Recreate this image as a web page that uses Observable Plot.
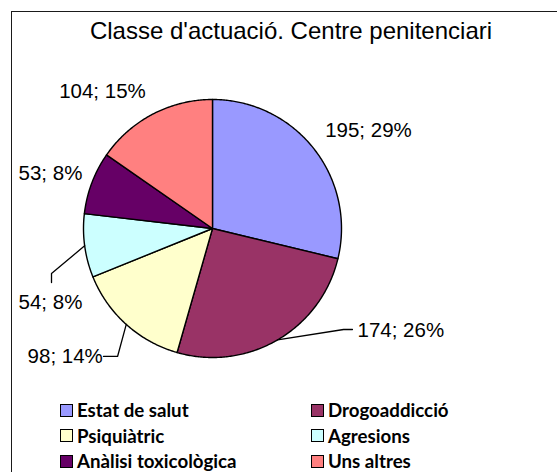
<!DOCTYPE html>
<html>
<head>
<meta charset="utf-8">
<script src="https://cdn.jsdelivr.net/npm/d3@7"></script>
<script src="https://cdn.jsdelivr.net/npm/@observablehq/plot@0.6"></script>
<style>
  html, body { margin: 0; padding: 0; background: #fff; }
  #wrap { position: relative; width: 557px; height: 472px; overflow: hidden; background: #fff; }
  #frame { position: absolute; left: 11px; top: 11px; width: 600px; height: 520px; border: 1.6px solid #1a1a1a; box-sizing: border-box; }
  #title { position: absolute; left: 0; width: 582px; top: 17px; text-align: center; font-family: "Liberation Sans", Arial, sans-serif; font-size: 24px; color: #000; white-space: nowrap; }
  #chart { position: absolute; left: 0; top: 0; }
  .leg { position: absolute; font-family: Lato, "Open Sans", sans-serif; font-weight: 700; font-size: 18.7px; color: #000; display: flex; align-items: center; white-space: nowrap; }
  .leg .sw { width: 11px; height: 11px; border: 1.6px solid #000; margin-right: 4px; flex: none; }
</style>
</head>
<body>
<div id="wrap">
  <div id="frame"></div>
  <div id="chart"></div>
  <div id="title">Classe d'actuació. Centre penitenciari</div>
  <div id="legend"></div>
</div>
<script>
// ---- data ----
const categories = ["Estat de salut", "Drogoaddicció", "Psiquiàtric", "Agresions", "Anàlisi toxicològica", "Uns altres"];
const values = [195, 174, 98, 54, 53, 104];
const percents = [29, 26, 14, 8, 8, 15];
const colors = ["#9999FF", "#993366", "#FFFFCC", "#CCFFFF", "#660066", "#FF8080"];

// ---- layout (pie radius units; y up) ----
const cx = 212, cy = 228, R = 129;
const labelPos = [
  {x: 1.209, y: 0.760, anchor: "middle"},
  {x: 1.124, y: -0.790, anchor: "start"},
  {x: -0.850, y: -0.990, anchor: "end"},
  {x: -1.256, y: -0.570, anchor: "middle"},
  {x: -1.256, y: 0.426, anchor: "middle"},
  {x: -0.853, y: 1.062, anchor: "middle"}
];
const leaderBends = [
  null,
  [[1.016, -0.783], [1.085, -0.783]],
  [[-0.736, -0.992], [-0.845, -0.992]],
  [[-1.248, -0.349], [-1.248, -0.419]],
  null,
  null
];

// ---- slices ----
const pie = d3.pie().sort(null).value(d => d)(values);
const slicePts = [];
pie.forEach((a, i) => {
  slicePts.push({cat: categories[i], x: 0, y: 0});
  const n = Math.max(2, Math.ceil((a.endAngle - a.startAngle) / 0.01));
  for (let k = 0; k <= n; k++) {
    const t = a.startAngle + (a.endAngle - a.startAngle) * k / n;
    slicePts.push({cat: categories[i], x: Math.sin(t), y: Math.cos(t)});
  }
});

const leaders = [];
pie.forEach((a, i) => {
  if (!leaderBends[i]) return;
  const m = (a.startAngle + a.endAngle) / 2;
  leaders.push({id: i, x: Math.sin(m), y: Math.cos(m)});
  leaderBends[i].forEach(p => leaders.push({id: i, x: p[0], y: p[1]}));
});

const labels = categories.map((c, i) => ({
  text: `${values[i]}; ${percents[i]}%`,
  x: labelPos[i].x, y: labelPos[i].y, anchor: labelPos[i].anchor
}));

const textOpts = {x: "x", y: "y", text: "text", fontSize: 20.5, fontFamily: "Liberation Sans, Arial, sans-serif", fill: "#000"};

const plot = Plot.plot({
  width: 557, height: 472,
  margin: 0,
  x: {domain: [-1, 1], range: [cx - R, cx + R], axis: null},
  y: {domain: [-1, 1], range: [cy + R, cy - R], axis: null},
  color: {domain: categories, range: colors},
  style: {background: "transparent", overflow: "visible"},
  marks: [
    Plot.line(slicePts, {x: "x", y: "y", z: "cat", fill: "cat", stroke: "#000", strokeWidth: 1.4, curve: "linear-closed", strokeLinejoin: "round"}),
    Plot.line(leaders, {x: "x", y: "y", z: "id", stroke: "#000", strokeWidth: 1.3}),
    Plot.text(labels.filter(d => d.anchor === "middle"), {...textOpts, textAnchor: "middle"}),
    Plot.text(labels.filter(d => d.anchor === "start"), {...textOpts, textAnchor: "start"}),
    Plot.text(labels.filter(d => d.anchor === "end"), {...textOpts, textAnchor: "end"})
  ]
});
document.getElementById("chart").appendChild(plot);

// ---- legend ----
const legend = document.getElementById("legend");
const colX = [60, 311], rowY = [410, 435.5, 461];
categories.forEach((c, i) => {
  const el = document.createElement("div");
  el.className = "leg";
  el.style.left = colX[i % 2] + "px";
  el.style.top = (rowY[Math.floor(i / 2)] - 11) + "px";
  el.style.height = "22px";
  const sw = document.createElement("span");
  sw.className = "sw";
  sw.style.background = colors[i];
  el.appendChild(sw);
  el.appendChild(document.createTextNode(c));
  legend.appendChild(el);
});
</script>
</body>
</html>
